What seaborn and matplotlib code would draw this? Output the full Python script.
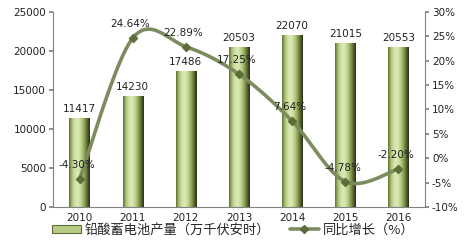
import numpy as np
import pandas as pd
import matplotlib
matplotlib.use("Agg")
import matplotlib.pyplot as plt
from matplotlib.colors import LinearSegmentedColormap
from matplotlib.lines import Line2D
from matplotlib.patches import Patch
import seaborn as sns

years = ["2010", "2011", "2012", "2013", "2014", "2015", "2016"]
output = [11417, 14230, 17486, 20503, 22070, 21015, 20553]
growth = [-4.30, 24.64, 22.89, 17.25, 7.64, -4.78, -2.20]
growth_labels = ["-4.30%", "24.64%", "22.89%", "17.25%", "7.64%", "-4.78%", "-2.20%"]
bar_name = "铅酸蓄电池产量（万千伏安时）"
line_name = "同比增长（%）"

sns.set_theme(style="white")
plt.rcParams['font.family'] = ['Noto Sans CJK SC', 'DejaVu Sans']

fig = plt.figure(figsize=(4.66, 2.46), dpi=100)
ax = fig.add_axes([53/466, 1-207/246, (425-53)/466, 195/246])

df = pd.DataFrame({"year": years, "output": output})
sns.barplot(data=df, x="year", y="output", ax=ax, width=0.38,
            color="#c4d79b", saturation=1, edgecolor="none", zorder=2)

cmap = LinearSegmentedColormap.from_list(
    "bar", ["#5e6e35", "#a9bf74", "#d3e3a8", "#dce9b8", "#c4d693", "#98ad5e", "#5d6e33", "#262c12"])
grad = np.linspace(0, 1, 256).reshape(1, -1)
for p in ax.patches:
    x0, y0 = p.get_x(), p.get_y()
    w, h = p.get_width(), p.get_height()
    p.set_facecolor("none")
    im = ax.imshow(grad, cmap=cmap, aspect="auto",
                   extent=[x0, x0 + w, y0, y0 + h], zorder=2)
    im.set_clip_path(p)
    ax.text(x0 + w/2, y0 + h + 500, f"{int(h)}", ha="center", va="bottom",
            fontsize=7.5, family="DejaVu Sans", color="#222222", zorder=5)

ax.set_xlim(-0.5, 6.5)
ax.set_ylim(0, 25000)
ax.set_yticks(range(0, 25001, 5000))
ax.set_xlabel("")
ax.set_ylabel("")
ax.tick_params(axis="both", labelsize=7.5, length=3, color="#808080", direction="out",
               left=True, bottom=True, pad=2, labelcolor="#222222")
for lab in ax.get_xticklabels() + ax.get_yticklabels():
    lab.set_family("DejaVu Sans")
ax.set_xticks(np.arange(-0.5, 7, 1), minor=True)
ax.tick_params(axis="x", which="major", length=0, pad=4)
ax.tick_params(axis="x", which="minor", length=3, color="#808080")
for s in ["top", "right"]:
    ax.spines[s].set_visible(False)
for s in ["left", "bottom"]:
    ax.spines[s].set_color("#808080")
    ax.spines[s].set_linewidth(0.8)

ax2 = ax.twinx()
ax2.set_ylim(-10, 30)
ax2.set_yticks(range(-10, 31, 5))
ax2.set_yticklabels([f"{v}%" for v in range(-10, 31, 5)])
ax2.tick_params(axis="y", labelsize=7.5, length=3, color="#808080", right=True, pad=2,
                labelcolor="#222222")
for lab in ax2.get_yticklabels():
    lab.set_family("DejaVu Sans")
for s in ["top", "left", "bottom"]:
    ax2.spines[s].set_visible(False)
ax2.spines["right"].set_color("#808080")
ax2.spines["right"].set_linewidth(0.8)
ax2.grid(False)
ax.grid(False)

# smooth curve (Excel-like Catmull-Rom Bezier)
xs = np.arange(len(growth), dtype=float)
ys = np.array(growth, dtype=float)
P = np.column_stack([xs, ys])
Pext = np.vstack([P[0], P, P[-1]])
curve = []
t = np.linspace(0, 1, 40)[:, None]
for i in range(len(P) - 1):
    p0, p1, p2, p3 = Pext[i], Pext[i+1], Pext[i+2], Pext[i+3]
    c1 = p1 + (p2 - p0) / 6
    c2 = p2 - (p3 - p1) / 6
    seg = ((1-t)**3)*p1 + 3*((1-t)**2)*t*c1 + 3*(1-t)*t**2*c2 + t**3*p2
    curve.append(seg)
curve = np.vstack(curve)
ax2.plot(curve[:, 0], curve[:, 1], color="#7d8c5e", lw=2.6, zorder=3,
         solid_capstyle="round")
sns.scatterplot(x=xs, y=ys, ax=ax2, marker="D", s=22, color="#5c6d3a",
                edgecolor="#5c6d3a", zorder=4, legend=False)
for xi, yi, lab in zip(xs, ys, growth_labels):
    ax2.text(xi - 0.05, yi + 1.8, lab, ha="center", va="bottom", fontsize=7.5,
             family="DejaVu Sans", color="#222222", zorder=5)

handles = [Patch(facecolor="#b9cc86", edgecolor="#5c6d3a", linewidth=0.8),
           Line2D([0], [0], color="#7d8c5e", lw=2.6, marker="D", markersize=4,
                  markerfacecolor="#5c6d3a", markeredgecolor="#5c6d3a")]
fig.legend(handles, [bar_name, line_name], loc="center", bbox_to_anchor=(0.5, 1-230/246),
           ncol=2, frameon=False, fontsize=9.5, handlelength=2.2, handleheight=0.5,
           columnspacing=1.5, handletextpad=0.3, borderaxespad=0)

fig.savefig("out.png", dpi=100)
